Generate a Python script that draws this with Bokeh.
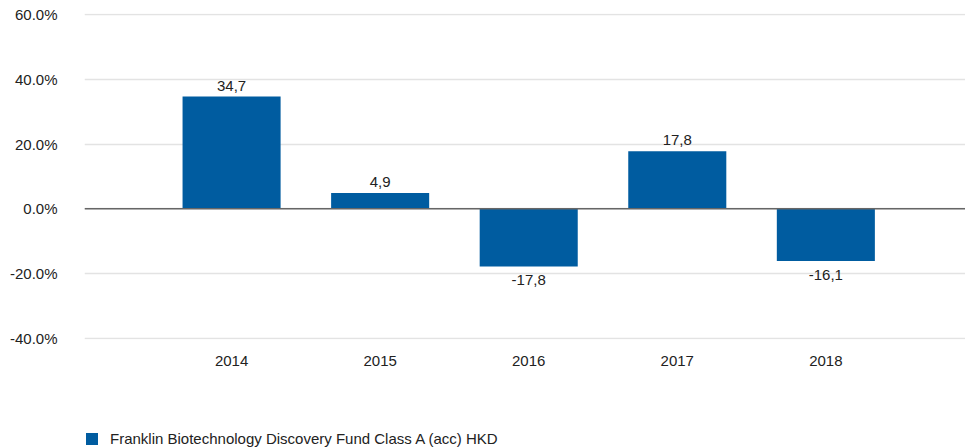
from bokeh.plotting import figure
from bokeh.models import (ColumnDataSource, Range1d, FixedTicker, Span, Legend,
                          LegendItem, LabelSet)
from bokeh.layouts import column
from bokeh.core.properties import value
from bokeh.embed import file_html
from bokeh.resources import INLINE

years = ["2014", "2015", "2016", "2017", "2018"]
values = [34.7, 4.9, -17.8, 17.8, -16.1]
value_labels = ["34,7", "4,9", "-17,8", "17,8", "-16,1"]
y_ticks = [-40, -20, 0, 20, 40, 60]
y_tick_labels = ["-40.0%", "-20.0%", "0.0%", "20.0%", "40.0%", "60.0%"]
series_name = "Franklin Biotechnology Discovery Fund Class A (acc) HKD"

FONT = "Liberation Sans"
BLUE = "#005ca0"
TXT = "#222222"

xs = list(range(len(years)))
src = ColumnDataSource(dict(x=xs, top=values))
pos_src = ColumnDataSource(dict(x=[x for x, v in zip(xs, values) if v >= 0],
                                y=[v for v in values if v >= 0],
                                lab=[l for l, v in zip(value_labels, values) if v >= 0]))
neg_src = ColumnDataSource(dict(x=[x for x, v in zip(xs, values) if v < 0],
                                y=[v for v in values if v < 0],
                                lab=[l for l, v in zip(value_labels, values) if v < 0]))

p = figure(width=965, height=425, output_backend="svg", toolbar_location=None,
           x_range=Range1d(-0.99, 4.94), y_range=Range1d(-40.4, 60.4),
           min_border_left=84, min_border_right=0, min_border_top=13,
           min_border_bottom=86)
p.outline_line_color = None
p.background_fill_color = "white"
p.border_fill_color = "white"

bars = p.vbar(x="x", top="top", bottom=0, width=0.66, source=src,
              fill_color=BLUE, line_color=None)

p.add_layout(Span(location=0, dimension="width", line_color="#666666",
                  line_width=1.5))

p.add_layout(LabelSet(x="x", y="y", text="lab", source=pos_src,
                      text_align="center", text_baseline="alphabetic",
                      y_offset=6, text_font=value(FONT), text_font_size="15px",
                      text_color=TXT))
p.add_layout(LabelSet(x="x", y="y", text="lab", source=neg_src,
                      text_align="center", text_baseline="top",
                      y_offset=-9, text_font=value(FONT), text_font_size="15px",
                      text_color=TXT))

# axes
p.xaxis.ticker = FixedTicker(ticks=xs)
p.xaxis.major_label_overrides = {i: y for i, y in enumerate(years)}
p.yaxis.ticker = FixedTicker(ticks=y_ticks)
p.yaxis.major_label_overrides = {t: l for t, l in zip(y_ticks, y_tick_labels)}
for ax in (p.xaxis, p.yaxis):
    ax.axis_line_color = None
    ax.major_tick_line_color = None
    ax.minor_tick_line_color = None
    ax.major_label_text_font = FONT
    ax.major_label_text_font_size = "15px"
    ax.major_label_text_color = TXT
p.xaxis.major_label_standoff = 10
p.yaxis.major_label_standoff = 21

p.xgrid.grid_line_color = None
p.ygrid.ticker = FixedTicker(ticks=y_ticks)
p.ygrid.grid_line_color = "#e3e3e3"
p.ygrid.grid_line_width = 1.5

# legend strip below the chart (series swatch drawn from a copy of the bar
# renderer whose data lies outside the strip's visible range)
pl = figure(width=965, height=22, output_backend="svg", toolbar_location=None,
            x_range=Range1d(0, 1), y_range=Range1d(0, 1),
            x_axis_type=None, y_axis_type=None,
            min_border_left=83, min_border_right=0, min_border_top=0,
            min_border_bottom=0)
pl.outline_line_color = None
pl.grid.visible = False
pl.border_fill_color = "white"
swatch = pl.vbar(x=[10], top=[10], bottom=[9], width=0.5,
                 fill_color=BLUE, line_color=None)
legend = Legend(items=[LegendItem(label=series_name, renderers=[swatch])],
                location=(0, 0), orientation="horizontal",
                padding=0, margin=0, spacing=0,
                glyph_width=15, glyph_height=15, label_height=17,
                label_standoff=11, border_line_color=None,
                background_fill_alpha=0,
                label_text_font=FONT, label_text_font_size="15px",
                label_text_color=TXT)
pl.add_layout(legend, "center")

layout = column(p, pl, spacing=0)
open("out.html", "w").write(file_html(layout, INLINE))
